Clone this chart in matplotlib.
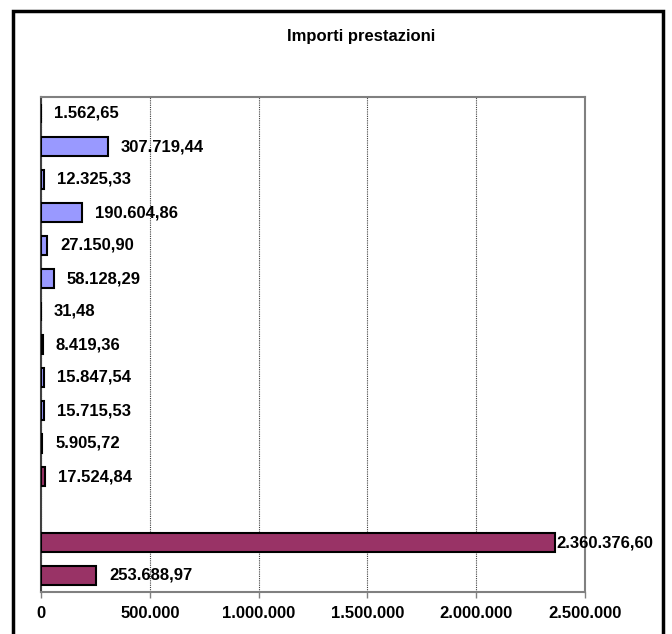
import numpy as np
import matplotlib.pyplot as plt
from matplotlib.patches import Rectangle
from matplotlib.ticker import FuncFormatter

# values from top to bottom; None marks the empty slot
valori = [1562.65, 307719.44, 12325.33, 190604.86, 27150.90, 58128.29,
          31.48, 8419.36, 15847.54, 15715.53, 5905.72, 17524.84,
          None, 2360376.60, 253688.97]
gruppo = ['a'] * 11 + ['b'] + [None] + ['b', 'b']
colori = {'a': '#9999FF', 'b': '#993366'}
xticks = [0, 500000, 1000000, 1500000, 2000000, 2500000]


def fmt_it(v, dec=2):
    s = f"{v:,.{dec}f}"
    return s.replace(',', 'X').replace('.', ',').replace('X', '.')


plt.rcParams['font.family'] = ['Liberation Sans', 'DejaVu Sans']

fig = plt.figure(figsize=(6.72, 6.34), dpi=100)
ax = fig.add_axes([41 / 672, 1 - 592 / 634, (585 - 41) / 672, (592 - 97) / 634])

n = len(valori)
xmax = 2500000
for i, (v, g) in enumerate(zip(valori, gruppo)):
    if v is None:
        continue
    y = n - 1 - i
    ax.barh(y, v, height=0.55, color=colori[g], edgecolor='black', linewidth=1.5, zorder=3)
    # excel pushes the label of the longest bar close to it
    off = 2 if v > 0.9 * xmax else 13
    ax.annotate(fmt_it(v), (v, y), xytext=(off * 0.72, 0), textcoords='offset points',
                va='center', ha='left', fontsize=12, fontweight='bold',
                zorder=4, annotation_clip=False)

ax.set_xlim(0, xmax)
ax.set_ylim(-0.5, n - 0.5)
ax.set_xticks(xticks)
ax.xaxis.set_major_formatter(FuncFormatter(lambda x, p: fmt_it(x, 0)))
ax.set_yticks([])
ax.tick_params(axis='x', direction='out', length=4, width=1, color='#808080',
               labelsize=12, pad=6)
for lab in ax.get_xticklabels():
    lab.set_fontweight('bold')
ax.grid(axis='x', linestyle=(0, (1, 1)), color='#404040', linewidth=0.8, zorder=0)
for side in ['top', 'right', 'bottom']:
    ax.spines[side].set_color('#808080')
    ax.spines[side].set_linewidth(1.5)
ax.spines['left'].set_color('#404040')
ax.spines['left'].set_linewidth(1.5)

fig.text(361 / 672, 1 - 37 / 634, 'Importi prestazioni', ha='center', va='center',
         fontsize=12, fontweight='bold')

fig.patches.append(Rectangle((13 / 672, -0.05), (663 - 13) / 672, 1.05 - 11 / 634,
                             transform=fig.transFigure, fill=False,
                             edgecolor='black', linewidth=2.5))

fig.savefig('out.png', dpi=100)
